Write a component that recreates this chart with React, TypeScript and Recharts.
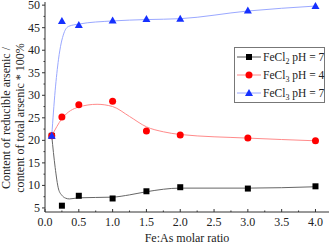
import { ComposedChart, Line, Scatter, XAxis, YAxis } from 'recharts';

// measured points
const ratios = [0.1, 0.25, 0.5, 1.0, 1.5, 2.0, 3.0, 4.0];
const fecl2pH7 = [21, 5.5, 7.7, 7.1, 8.7, 9.6, 9.3, 9.8];
const fecl3pH4 = [21, 25.2, 27.9, 28.7, 22.1, 21.2, 20.5, 19.9];
const fecl3pH7 = [21, 46.5, 45.6, 46.6, 46.9, 47.0, 48.8, 49.8];

// fitted curves
const fitX2 = [0.1, 0.15, 0.2, 0.25, 0.3, 0.36, 0.5, 1.0, 1.25, 1.5, 2.0, 3.0, 4.0];
const fit2pH7 = [21, 14, 9.2, 7.8, 7.2, 7.0, 7.25, 7.4, 7.9, 8.6, 9.4, 9.4, 9.7];
const fitX3a = [0.1, 0.25, 0.5, 0.77, 1.0, 1.25, 1.5, 1.75, 2.0, 3.0, 4.0];
const fit3pH4 = [21, 24.8, 27.4, 28.0, 27.5, 25.3, 23.0, 21.9, 21.3, 20.5, 19.9];
const fitX3b = [0.1, 0.15, 0.2, 0.28, 0.35, 0.5, 1.0, 1.5, 2.0, 3.0, 4.0];
const fit3pH7 = [21, 31, 38, 43.8, 45.3, 45.8, 46.5, 46.8, 47.0, 48.7, 49.8];

const yTicks = [5, 7.5, 10, 12.5, 15, 17.5, 20, 22.5, 25, 27.5, 30, 32.5, 35, 37.5, 40, 42.5, 45, 47.5, 50];
const xTicks = [0, 0.25, 0.5, 0.75, 1, 1.25, 1.5, 1.75, 2, 2.25, 2.5, 2.75, 3, 3.25, 3.5, 3.75, 4];

const pts = (xs: number[], ys: number[]) => xs.map((x, i) => ({ x, y: ys[i] }));

const FONT = '"Liberation Serif", "Times New Roman", serif';

const YTick = (props: any) => {
  const { y, payload } = props;
  const major = payload.value % 5 === 0;
  return (
    <g>
      <line x1={45} x2={major ? 42 : 43.5} y1={y} y2={y} stroke="#333" />
      {major && (
        <text x={40} y={y + 4} textAnchor="end" fontSize={12} fontFamily={FONT} fill="#222">
          {payload.value}
        </text>
      )}
    </g>
  );
};

const XTick = (props: any) => {
  const { x, payload } = props;
  const major = Math.round(payload.value * 100) % 50 === 0;
  return (
    <g>
      <line x1={x} x2={x} y1={212} y2={major ? 209 : 210.5} stroke="#333" />
      {major && (
        <text x={x} y={226} textAnchor="middle" fontSize={12} fontFamily={FONT} fill="#222">
          {payload.value.toFixed(1)}
        </text>
      )}
    </g>
  );
};

const Tri = (props: any) => {
  const { cx, cy, fill } = props;
  return <polygon points={`${cx},${cy - 4} ${cx - 4},${cy + 3} ${cx + 4},${cy + 3}`} fill={fill} />;
};
const Sq = (props: any) => {
  const { cx, cy, fill } = props;
  return <rect x={cx - 3} y={cy - 3} width={6} height={6} fill={fill} />;
};
const Dot = (props: any) => {
  const { cx, cy, fill } = props;
  return <circle cx={cx} cy={cy} r={3.5} fill={fill} />;
};

const legendItems = [
  { name: 'FeCl', sub: '2', rest: ' pH = 7', line: '#555', fill: '#000', shape: 'sq' },
  { name: 'FeCl', sub: '3', rest: ' pH = 4', line: '#ff8a8a', fill: '#ff0000', shape: 'dot' },
  { name: 'FeCl', sub: '3', rest: ' pH = 7', line: '#9aa8ff', fill: '#1530ff', shape: 'tri' },
];

const LegendBox = () => (
  <div
    style={{
      position: 'absolute',
      left: 234,
      top: 47,
      border: '1px solid #777',
      background: '#fff',
      width: 89,
      fontFamily: FONT,
      fontSize: 11.5,
      color: '#222',
    }}
  >
    {legendItems.map((it, i) => (
      <div key={i} style={{ display: 'flex', alignItems: 'center', height: 18, lineHeight: '12px' }}>
        <svg width={28} height={12} style={{ flex: 'none' }}>
          <line x1={2} x2={26} y1={6} y2={6} stroke={it.line} />
          {it.shape === 'sq' && <rect x={11} y={3} width={6} height={6} fill={it.fill} />}
          {it.shape === 'dot' && <circle cx={14} cy={6} r={3.5} fill={it.fill} />}
          {it.shape === 'tri' && <polygon points="14,2 10,9 18,9" fill={it.fill} />}
        </svg>
        <span style={{ whiteSpace: 'nowrap' }}>
          {it.name}
          <sub style={{ fontSize: 8, lineHeight: 0 }}>{it.sub}</sub>
          {it.rest}
        </span>
      </div>
    ))}
  </div>
);

export default function App() {
  return (
    <div style={{ position: 'absolute', left: 0, top: 0, width: 331, height: 245, background: '#fff' }}>
      <ComposedChart width={331} height={245} margin={{ top: 2, right: 2, left: 0, bottom: 0 }}>
        <XAxis
          xAxisId="b"
          dataKey="x"
          type="number"
          domain={[0, 4.2]}
          ticks={xTicks}
          interval={0}
          tick={<XTick />}
          tickLine={false}
          axisLine={{ stroke: '#333' }}
          height={33}
          label={{ value: 'Fe:As molar ratio', position: 'insideBottom', offset: 3, fontSize: 12, fontFamily: FONT, fill: '#222' }}
        />
        <XAxis xAxisId="t" orientation="top" type="number" domain={[0, 4.2]} height={0} tick={false} tickLine={false} axisLine={{ stroke: '#333' }} />
        <YAxis
          yAxisId="l"
          type="number"
          domain={[4.1, 50.7]}
          ticks={yTicks}
          interval={0}
          tick={<YTick />}
          tickLine={false}
          axisLine={{ stroke: '#333' }}
          width={45}
          label={() => (
            <g fontFamily={FONT} fontSize={12} fill="#222">
              <text x={10} y={118} textAnchor="middle" transform="rotate(-90, 10, 118)">
                Content of reducible arsenic /
              </text>
              <text x={24} y={118} textAnchor="middle" transform="rotate(-90, 24, 118)">
                content of total arsenic * 100%
              </text>
            </g>
          )}
        />
        <YAxis yAxisId="r" orientation="right" type="number" domain={[4.1, 50.7]} width={0} tick={false} tickLine={false} axisLine={{ stroke: '#333' }} />

        <Line xAxisId="b" yAxisId="l" data={pts(fitX2, fit2pH7)} dataKey="y" type="monotone" stroke="#666" strokeWidth={1} dot={false} isAnimationActive={false} />
        <Line xAxisId="b" yAxisId="l" data={pts(fitX3a, fit3pH4)} dataKey="y" type="monotone" stroke="#ff8a8a" strokeWidth={1} dot={false} isAnimationActive={false} />
        <Line xAxisId="b" yAxisId="l" data={pts(fitX3b, fit3pH7)} dataKey="y" type="monotone" stroke="#9aa8ff" strokeWidth={1} dot={false} isAnimationActive={false} />

        <Scatter xAxisId="b" yAxisId="l" data={pts(ratios, fecl2pH7)} dataKey="y" fill="#000" shape={<Sq />} isAnimationActive={false} />
        <Scatter xAxisId="b" yAxisId="l" data={pts(ratios, fecl3pH4)} dataKey="y" fill="#ff0000" shape={<Dot />} isAnimationActive={false} />
        <Scatter xAxisId="b" yAxisId="l" data={pts(ratios, fecl3pH7)} dataKey="y" fill="#1530ff" shape={<Tri />} isAnimationActive={false} />
      </ComposedChart>
      <LegendBox />
    </div>
  );
}
